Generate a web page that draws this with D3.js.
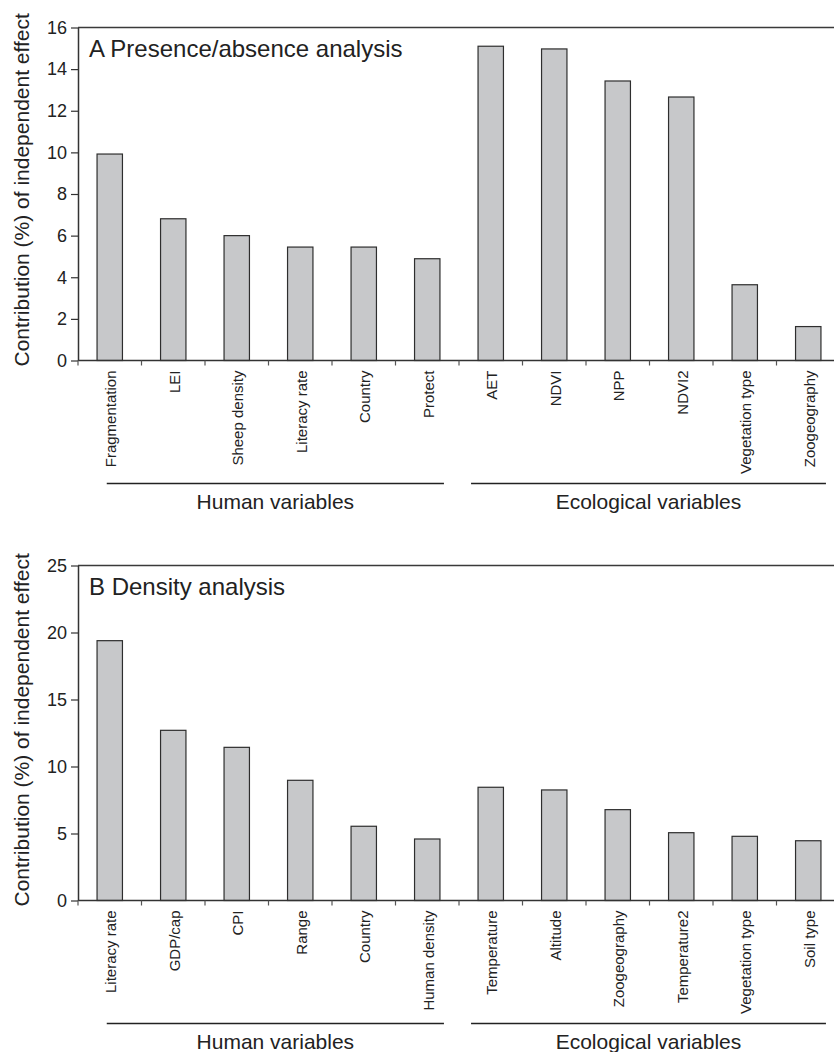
<!DOCTYPE html>
<html>
<head>
<meta charset="utf-8">
<script src="https://cdn.jsdelivr.net/npm/d3@7"></script>
<style>
  body { margin: 0; background: #fff; }
  svg { display: block; font-family: "Liberation Sans", Arial, sans-serif; }
</style>
</head>
<body>
<div id="chart"></div>
<script>
// Panel A: presence/absence
const catsA = ["Fragmentation", "LEI", "Sheep density", "Literacy rate", "Country", "Protect",
               "AET", "NDVI", "NPP", "NDVI2", "Vegetation type", "Zoogeography"];
const valsA = [9.92, 6.81, 6.0, 5.45, 5.45, 4.89, 15.1, 14.97, 13.43, 12.66, 3.64, 1.63];
const ticksA = [0, 2, 4, 6, 8, 10, 12, 14, 16];

// Panel B: density
const catsB = ["Literacy rate", "GDP/cap", "CPI", "Range", "Country", "Human density",
               "Temperature", "Altitude", "Zoogeography", "Temperature2", "Vegetation type", "Soil type"];
const valsB = [19.39, 12.7, 11.43, 8.97, 5.54, 4.59, 8.45, 8.25, 6.78, 5.06, 4.79, 4.46];
const ticksB = [0, 5, 10, 15, 20, 25];

const groupNames = ["Human variables", "Ecological variables"];
const yTitle = "Contribution (%) of independent effect";

const W = 834, H = 1052;
const left = 78, right = 840;

const svg = d3.select("#chart").append("svg")
  .attr("width", W)
  .attr("height", H);

function drawPanel(cats, vals, ticks, title, top, bottom) {
  const g = svg.append("g");

  const x = d3.scaleBand()
    .domain(cats)
    .range([left, right])
    .paddingInner(0.6)
    .paddingOuter(0.3);

  const y = d3.scaleLinear()
    .domain([0, d3.max(ticks)])
    .range([bottom, top]);

  // top frame line
  g.append("line")
    .attr("x1", left).attr("x2", right)
    .attr("y1", y(d3.max(ticks))).attr("y2", y(d3.max(ticks)))
    .attr("stroke", "#3a3a3a").attr("stroke-width", 1.5);

  // bars
  g.selectAll("rect.bar")
    .data(cats)
    .enter().append("rect")
    .attr("class", "bar")
    .attr("x", d => x(d))
    .attr("width", x.bandwidth())
    .attr("y", (d, i) => y(vals[i]))
    .attr("height", (d, i) => y(0) - y(vals[i]))
    .attr("fill", "#c7c8ca")
    .attr("stroke", "#2e2e2e")
    .attr("stroke-width", 1.2);

  // y axis
  const yAxis = g.append("g")
    .attr("transform", `translate(${left},0)`)
    .call(d3.axisLeft(y).tickValues(ticks).tickSize(7).tickSizeOuter(0).tickPadding(4));
  yAxis.select(".domain").attr("stroke", "#333").attr("stroke-width", 1.5);
  yAxis.selectAll(".tick line").attr("stroke", "#333").attr("stroke-width", 1.2);
  yAxis.selectAll(".tick text")
    .attr("font-size", 18)
    .attr("fill", "#222")
    .style("font-family", "'Liberation Sans', Arial, sans-serif");

  // x baseline + boundary ticks
  g.append("line")
    .attr("x1", left).attr("x2", right)
    .attr("y1", y(0)).attr("y2", y(0))
    .attr("stroke", "#333").attr("stroke-width", 1.5);

  const step = x.step();
  g.selectAll("line.xtick")
    .data(d3.range(cats.length + 1))
    .enter().append("line")
    .attr("class", "xtick")
    .attr("x1", i => left + i * step).attr("x2", i => left + i * step)
    .attr("y1", y(0)).attr("y2", y(0) + 5)
    .attr("stroke", "#555").attr("stroke-width", 1.2);

  // category labels (rotated)
  g.selectAll("text.cat")
    .data(cats)
    .enter().append("text")
    .attr("class", "cat")
    .attr("transform", d => `translate(${x(d) + x.bandwidth() / 2 + 1},${y(0) + 10}) rotate(-90)`)
    .attr("text-anchor", "end")
    .attr("dy", "0.36em")
    .attr("font-size", 15)
    .attr("fill", "#222")
    .text(d => d);

  // panel title
  g.append("text")
    .attr("x", 89)
    .attr("y", top + 29)
    .attr("font-size", 24)
    .attr("fill", "#222")
    .text(title);

  // y axis title
  g.append("text")
    .attr("transform", `translate(29,${bottom + 6}) rotate(-90)`)
    .attr("text-anchor", "start")
    .attr("font-size", 21)
    .attr("fill", "#222")
    .text(yTitle);

  // group brackets
  const half = cats.length / 2;
  const groups = [
    { name: groupNames[0], x1: x(cats[0]) + x.bandwidth() / 2 - 3, x2: x(cats[half - 1]) + x.bandwidth() + 4 },
    { name: groupNames[1], x1: x(cats[half]) - 7, x2: x(cats[cats.length - 1]) + x.bandwidth() + 5 }
  ];
  groups.forEach(gr => {
    g.append("line")
      .attr("x1", gr.x1).attr("x2", gr.x2)
      .attr("y1", y(0) + 123).attr("y2", y(0) + 123)
      .attr("stroke", "#222").attr("stroke-width", 1.5);
    g.append("text")
      .attr("x", (gr.x1 + gr.x2) / 2)
      .attr("y", y(0) + 148)
      .attr("text-anchor", "middle")
      .attr("font-size", 21)
      .attr("fill", "#222")
      .text(gr.name);
  });
}

drawPanel(catsA, valsA, ticksA, "A Presence/absence analysis", 27.5, 360.5);
drawPanel(catsB, valsB, ticksB, "B Density analysis", 565.5, 900.5);
</script>
</body>
</html>
